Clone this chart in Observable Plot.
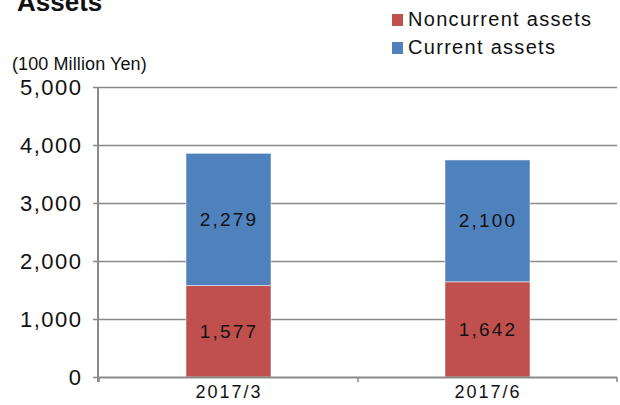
<!DOCTYPE html>
<html>
<head>
<meta charset="utf-8">
<script src="https://cdn.jsdelivr.net/npm/d3@7"></script>
<script src="https://cdn.jsdelivr.net/npm/@observablehq/plot@0.6"></script>
<style>
  body { margin: 0; background: #fff; font-family: "Liberation Sans", Arial, sans-serif; }
  #wrap { position: relative; width: 620px; height: 405px; overflow: hidden; }
  .abs { position: absolute; white-space: nowrap; color: #111; }
  #title { left: 17px; top: -13px; font-size: 26px; font-weight: bold; line-height: 30px; }
  #unit { left: 12px; top: 54px; font-size: 18px; line-height: 21px; letter-spacing: 0.1px; }
  .leg { font-size: 20px; line-height: 22px; letter-spacing: 1.3px; }
  .sw { display: inline-block; width: 11px; height: 12px; margin-right: 5px; vertical-align: 0px; }
  #plot { position: absolute; left: 0; top: 0; }
</style>
</head>
<body>
<div id="wrap">
  <div id="plot"></div>
  <div class="abs" id="title">Assets</div>
  <div class="abs" id="unit">(100 Million Yen)</div>
  <div class="abs leg" style="left:392px; top:8px;"><span class="sw" style="background:#C0504D"></span>Noncurrent assets</div>
  <div class="abs leg" style="left:392px; top:36px;"><span class="sw" style="background:#4F81BD"></span>Current assets</div>
</div>
<script>
const categories = ["2017/3", "2017/6"];
const seriesNames = ["Noncurrent assets", "Current assets"];
const noncurrent = [1577, 1642];
const current = [2279, 2100];
const yTicks = [0, 1000, 2000, 3000, 4000, 5000];
const colors = ["#C0504D", "#4F81BD"];

const rows = [];
categories.forEach((c, i) => {
  rows.push({cat: c, series: seriesNames[0], value: noncurrent[i], y0: 0});
  rows.push({cat: c, series: seriesNames[1], value: current[i], y0: noncurrent[i]});
});
rows.forEach(r => { r.mid = r.y0 + r.value / 2; });

const gray = "#8a8a8a";

const boundaryTicks = (index, scales, values, dims) => {
  const x = scales.x;
  const g = d3.create("svg:g");
  const y0 = dims.height - dims.marginBottom;
  const step = x.step();
  const first = x(categories[0]) - (step - x.bandwidth()) / 2;
  for (let i = 0; i <= categories.length; i++) {
    const px = Math.round(first + i * step);
    g.append("line").attr("x1", px).attr("x2", px).attr("y1", y0).attr("y2", y0 + 5)
      .attr("stroke", gray).attr("stroke-width", 1.5);
  }
  return g.node();
};

const plot = Plot.plot({
  width: 620,
  height: 405,
  marginLeft: 98,
  marginRight: 3,
  marginTop: 87,
  marginBottom: 28,
  style: {fontFamily: "Liberation Sans, Arial, sans-serif", color: "#111", background: "transparent"},
  x: {domain: categories, paddingInner: 0.672, paddingOuter: 0.336, label: null},
  y: {domain: [0, 5000], label: null},
  color: {domain: seriesNames, range: colors},
  marks: [
    Plot.gridY(yTicks.filter(t => t > 0), {stroke: gray, strokeOpacity: 1, strokeWidth: 1.3}),
    Plot.barY(rows, {x: "cat", y1: "y0", y2: d => d.y0 + d.value, fill: "series", stroke: "#fff", strokeOpacity: 0.5, strokeWidth: 1}),
    Plot.axisY({ticks: yTicks, tickFormat: d3.format(","), tickSize: 5, tickPadding: 11, fontSize: 22, stroke: gray, strokeWidth: 1.5}),
    Plot.ruleY([0], {stroke: gray, strokeWidth: 2}),
    Plot.axisX({tickSize: 0, tickPadding: 8, fontSize: 18}),
    boundaryTicks,
    Plot.text(rows, {x: "cat", y: "mid", text: d => d3.format(",")(d.value), fontSize: 19, fill: "#111"})
  ]
});

document.getElementById("plot").appendChild(plot);
const svg = d3.select(plot);
svg.selectAll('g[aria-label="y-axis tick label"]').style("letter-spacing", "1.5px");
svg.selectAll('g[aria-label="x-axis tick label"]').style("letter-spacing", "2px");
svg.selectAll('g[aria-label="text"]').style("letter-spacing", "2.2px");
// left axis line
const ys = plot.scale("y");
svg.append("line")
  .attr("x1", 98).attr("x2", 98)
  .attr("y1", ys.apply(5000)).attr("y2", ys.apply(0) + 5)
  .attr("stroke", gray).attr("stroke-width", 2);
</script>
</body>
</html>
